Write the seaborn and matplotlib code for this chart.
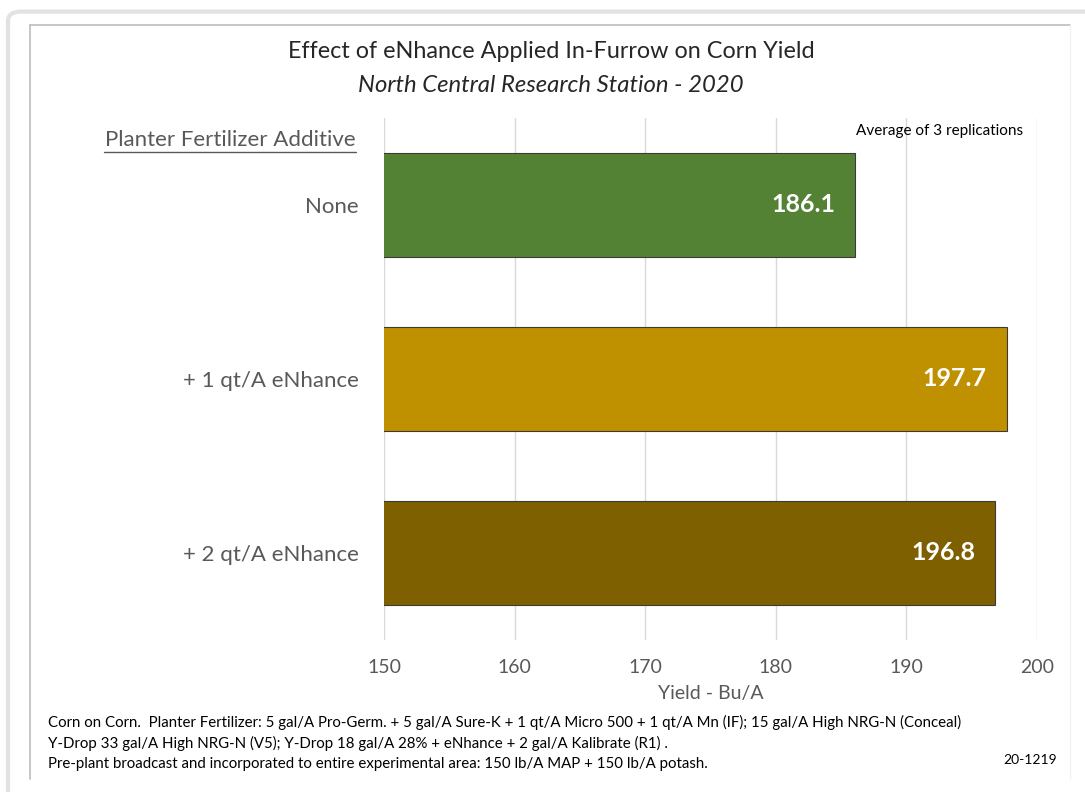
import matplotlib.pyplot as plt
import pandas as pd
import seaborn as sns
from matplotlib.lines import Line2D
from matplotlib.patches import FancyBboxPatch

additives = ["None", "+ 1 qt/A eNhance", "+ 2 qt/A eNhance"]
yields = [186.1, 197.7, 196.8]
bar_colors = ["#548235", "#bf9000", "#7f6000"]
x_ticks = [150, 160, 170, 180, 190, 200]

footnotes = [
    "Corn on Corn.  Planter Fertilizer: 5 gal/A Pro-Germ. + 5 gal/A Sure-K + 1 qt/A Micro 500 + 1 qt/A Mn (IF); 15 gal/A High NRG-N (Conceal)",
    "Y-Drop 33 gal/A High NRG-N (V5); Y-Drop 18 gal/A 28% + eNhance + 2 gal/A Kalibrate (R1) .",
    "Pre-plant broadcast and incorporated to entire experimental area: 150 lb/A MAP + 150 lb/A potash.",
]

df = pd.DataFrame({"additive": additives, "yield": yields})

sns.set_theme(style="white")
plt.rcParams["font.family"] = ["Lato", "DejaVu Sans"]

fig = plt.figure(figsize=(10.85, 7.92), dpi=100)
W, H = 1085, 792

# page frame (rounded, light gray) and chart frame (top + left lines)
fig.patches.append(FancyBboxPatch((8 / W, -0.1), 1.2, (786 - 8) / H + 0.1 + 0.003,
                                  boxstyle="round,pad=0,rounding_size=0.012",
                                  transform=fig.transFigure, fill=False,
                                  edgecolor="#e2e2e2", linewidth=3))
fig.lines.append(Line2D([30 / W, 1070 / W], [1 - 25 / H, 1 - 25 / H],
                        transform=fig.transFigure, color="#bdbdbd", linewidth=1.2))
fig.lines.append(Line2D([30 / W, 30 / W], [1 - 25 / H, 1 - 779 / H],
                        transform=fig.transFigure, color="#bdbdbd", linewidth=1.2))
fig.lines.append(Line2D([1070 / W, 1070 / W], [1 - 25 / H, 1 - 779 / H],
                        transform=fig.transFigure, color="#f2f2f2", linewidth=1))

ax = fig.add_axes([384 / W, 1 - 640 / H, (1037 - 384) / W, (640 - 118) / H])
sns.barplot(data=df, x="yield", y="additive", hue="additive", palette=bar_colors,
            saturation=1, orient="h", width=0.6, edgecolor="#3a3a3a", linewidth=0.8,
            legend=False, ax=ax)

ax.set_xlim(150, 200)
ax.set_ylim(2.5, -0.5)
ax.set_xticks(x_ticks)
ax.set_xticklabels([str(t) for t in x_ticks])
ax.xaxis.grid(True, color="#d9d9d9", linewidth=1)
ax.set_axisbelow(True)
for s in ax.spines.values():
    s.set_visible(False)
ax.tick_params(axis="both", length=0, labelcolor="#595959")
ax.tick_params(axis="x", pad=14, labelsize=14)
ax.tick_params(axis="y", pad=18, labelsize=16)
ax.set_ylabel("")
ax.set_xlabel("Yield - Bu/A", color="#595959", fontsize=14, labelpad=6)

for i, v in enumerate(yields):
    ax.text(v - 1.55, i, f"{v:.1f}", ha="right", va="center", color="white",
            fontsize=18, fontweight="bold")

fig.text(551 / W, 1 - 52 / H, "Effect of eNhance Applied In-Furrow on Corn Yield",
         ha="center", va="center", fontsize=16.8, color="#262626")
fig.text(551 / W, 1 - 85 / H, "North Central Research Station - 2020",
         ha="center", va="center", fontsize=17.2, style="italic", color="#262626")

fig.text(230 / W, 1 - 140 / H, "Planter Fertilizer Additive", ha="center", va="center",
         fontsize=16, color="#595959")
fig.lines.append(Line2D([104 / W, 356 / W], [1 - 152 / H, 1 - 152 / H],
                        transform=fig.transFigure, color="#595959", linewidth=1))

fig.text(1023 / W, 1 - 131 / H, "Average of 3 replications", ha="right", va="center",
         fontsize=11, color="black")

for k, line in enumerate(footnotes):
    fig.text(48 / W, 1 - (722 + 21 * k) / H, line, ha="left", va="center",
             fontsize=10.8, color="black")
fig.text(1057 / W, 1 - 760 / H, "20-1219", ha="right", va="center",
         fontsize=10, color="black")

fig.savefig("out.png", dpi=100)
